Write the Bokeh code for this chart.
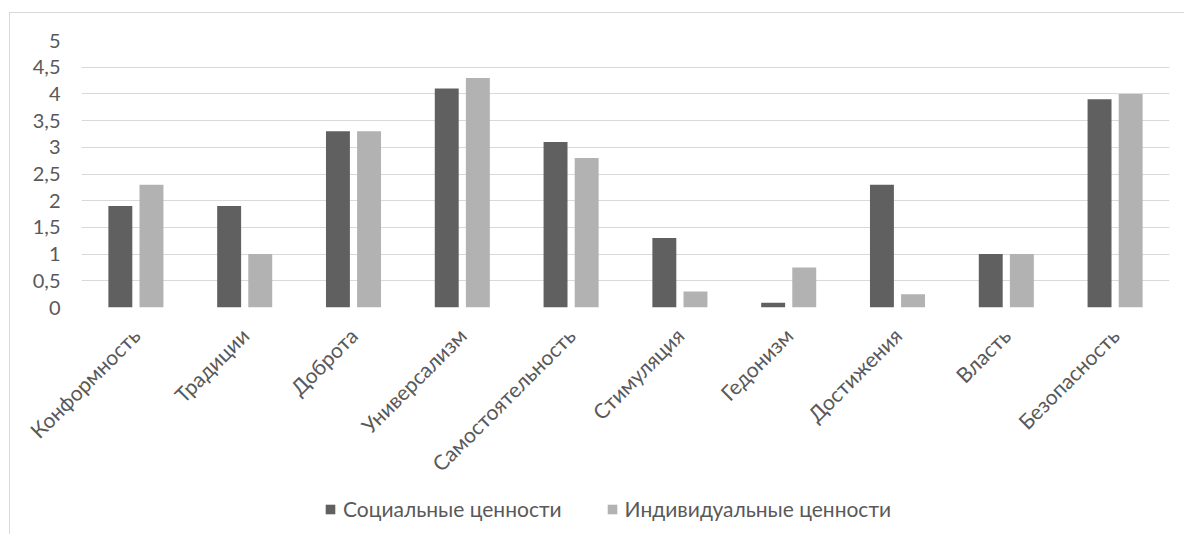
from bokeh.plotting import figure
from bokeh.models import FactorRange, Range1d, FixedTicker, Legend, LegendItem, ColumnDataSource
from bokeh.layouts import column
from bokeh.transform import dodge
from bokeh.embed import file_html
from bokeh.resources import INLINE
import math

categories = ["Конформность", "Традиции", "Доброта", "Универсализм", "Самостоятельность",
              "Стимуляция", "Гедонизм", "Достижения", "Власть", "Безопасность"]
social = [1.9, 1.9, 3.3, 4.1, 3.1, 1.3, 0.09, 2.3, 1.0, 3.9]
individual = [2.3, 1.0, 3.3, 4.3, 2.8, 0.3, 0.75, 0.25, 1.0, 4.0]
series_names = ["Социальные ценности", "Индивидуальные ценности"]
y_ticks = [0, 0.5, 1, 1.5, 2, 2.5, 3, 3.5, 4, 4.5, 5]
y_tick_labels = ["0", "0,5", "1", "1,5", "2", "2,5", "3", "3,5", "4", "4,5", "5"]

FONT = "Lato"
TEXT = "#595959"
DARK = "#606060"
LIGHT = "#b2b2b2"
GRID = "#d9d9d9"
LINE = "linear-gradient(#d9d9d9,#d9d9d9)"

src = ColumnDataSource(dict(cat=categories, social=social, individual=individual))

# main chart
p = figure(width=1184, height=490, x_range=FactorRange(*categories, range_padding=0),
           y_range=Range1d(0, 5), output_backend="svg", toolbar_location=None,
           min_border_left=81, min_border_right=15, min_border_top=40, min_border_bottom=183)
p.outline_line_color = None
p.border_fill_color = None
p.styles = {"background": f"{LINE} 9px 12px / 100% 1px no-repeat, "
                          f"{LINE} 9px 12px / 1px 100% no-repeat"}

r1 = p.vbar(x=dodge("cat", -0.143, range=p.x_range), top="social", width=0.22, source=src,
            fill_color=DARK, line_color=None)
r2 = p.vbar(x=dodge("cat", 0.143, range=p.x_range), top="individual", width=0.22, source=src,
            fill_color=LIGHT, line_color=None)

p.xgrid.grid_line_color = None
p.ygrid.grid_line_color = GRID
p.ygrid.grid_line_width = 1
p.yaxis.ticker = FixedTicker(ticks=y_ticks)
p.yaxis.major_label_overrides = {t: l for t, l in zip(y_ticks, y_tick_labels)}

for ax in (p.xaxis[0], p.yaxis[0]):
    ax.axis_line_color = None
    ax.major_tick_line_color = None
    ax.minor_tick_line_color = None
    ax.major_tick_out = 0
    ax.major_tick_in = 0
    ax.major_label_text_font = FONT
    ax.major_label_text_color = TEXT

p.yaxis.major_label_text_font_size = "20px"
p.yaxis.major_label_standoff = 21
p.xaxis.major_label_text_font_size = "21px"
p.xaxis.major_label_orientation = math.pi / 4
p.xaxis.major_label_standoff = 24

# legend strip below the chart; its swatches come from helper renderers that lie
# outside that strip's view and are styled like the bars
p2 = figure(width=1184, height=44, output_backend="svg", toolbar_location=None,
            x_range=Range1d(0, 1), y_range=Range1d(10, 11),
            min_border_left=0, min_border_right=0, min_border_top=0, min_border_bottom=0)
p2.outline_line_color = None
p2.border_fill_color = None
p2.axis.visible = False
p2.grid.visible = False
p2.styles = {"background": f"{LINE} 9px 0px / 1px 100% no-repeat"}
helper = ColumnDataSource(dict(x=[0.5], top=[0.0]))
l1 = p2.vbar(x="x", top="top", width=0.1, source=helper, fill_color=DARK, line_color=None)
l2 = p2.vbar(x="x", top="top", width=0.1, source=helper, fill_color=LIGHT, line_color=None)

legend = Legend(items=[LegendItem(label=series_names[0], renderers=[l1]),
                       LegendItem(label=series_names[1], renderers=[l2])],
                location=(243, 13), orientation="horizontal")
legend.label_text_font = FONT
legend.label_text_font_size = "21px"
legend.label_text_color = TEXT
legend.glyph_width = 12
legend.glyph_height = 12
legend.label_height = 12
legend.label_standoff = 7
legend.spacing = 44
legend.padding = 0
legend.margin = 0
legend.border_line_color = None
legend.background_fill_color = None
p2.add_layout(legend, "center")

layout = column(p, p2, spacing=0)
open("out.html", "w").write(file_html(layout, INLINE))
